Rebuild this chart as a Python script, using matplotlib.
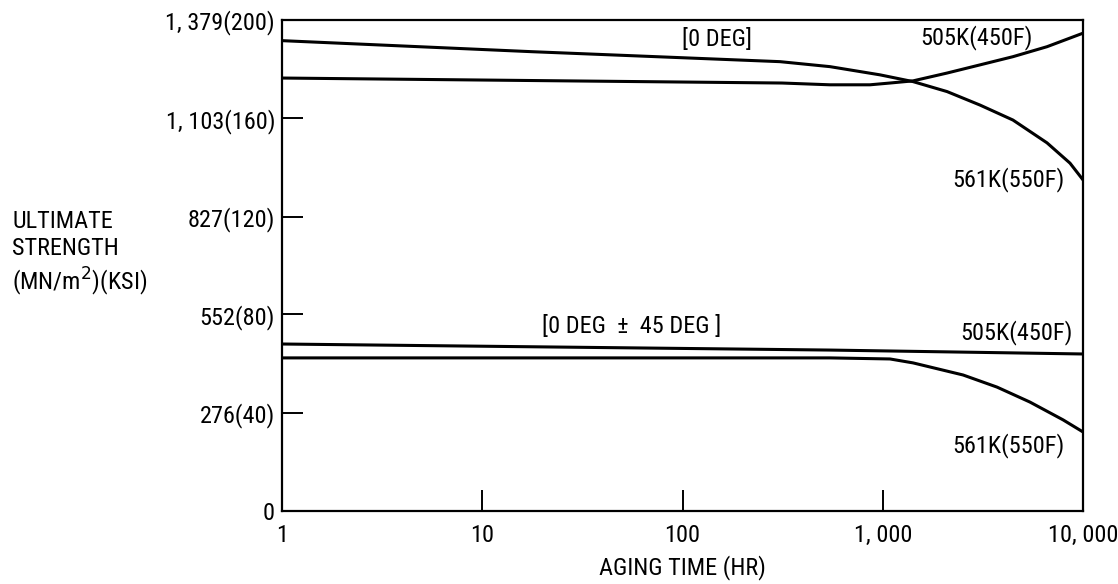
import matplotlib.pyplot as plt
from matplotlib import font_manager

# ultimate strength vs aging time, MN/m2
hours_0_505 = [1, 314, 545, 863, 1087, 1416, 2094, 3062, 4470, 6610, 10000]
str_0_505 = [1216, 1202, 1197, 1197, 1202, 1208, 1230, 1253, 1276, 1304, 1342]
hours_0_561 = [1, 17.7, 307, 545, 968, 1416, 2094, 3062, 4470, 6610, 8610, 10000]
str_0_561 = [1321, 1290, 1262, 1248, 1225, 1206, 1178, 1140, 1098, 1034, 977, 930]

hours_45_505 = [1, 545, 10000]
str_45_505 = [469, 452, 441]
hours_45_561 = [1, 545, 1087, 1416, 2518, 3720, 5430, 7950, 10000]
str_45_561 = [430, 430, 427, 416, 382, 348, 306, 256, 222]

yticks = [0, 276, 552, 827, 1103, 1379]
ytick_labels = ['0', '276(40)', '552(80)', '827(120)', '1, 103(160)', '1, 379(200)']
xticks = [1, 10, 100, 1000, 10000]
xtick_labels = ['1', '10', '100', '1, 000', '10, 000']

# look for a narrow face, the original lettering is condensed
fonts = font_manager.fontManager.ttflist
names = set(f.name for f in fonts)
stretch = 'normal'
fam = ['DejaVu Sans']
for n in ['Liberation Sans Narrow', 'Roboto Condensed', 'Open Sans Condensed', 'DejaVu Sans Condensed']:
    if n in names:
        fam = [n, 'DejaVu Sans']
        break
else:
    if any(f.name == 'DejaVu Sans' and f.stretch == 'condensed' for f in fonts):
        stretch = 'condensed'
plt.rcParams['font.family'] = fam
plt.rcParams['font.stretch'] = stretch
fs = 17.5 if (fam[0] != 'DejaVu Sans' or stretch == 'condensed') else 14

fig = plt.figure(figsize=(11.18, 5.84), dpi=100)
ax = fig.add_axes([282 / 1118, 73 / 584, 801 / 1118, 491 / 584])

lw = 2.2
ax.plot(hours_0_505, str_0_505, color='black', lw=lw)
ax.plot(hours_0_561, str_0_561, color='black', lw=lw)
ax.plot(hours_45_505, str_45_505, color='black', lw=lw)
ax.plot(hours_45_561, str_45_561, color='black', lw=lw)

ax.set_xscale('log')
ax.set_xlim(1, 10000)
ax.set_ylim(0, 1379)
ax.set_xticks(xticks)
ax.set_xticklabels(xtick_labels)
ax.minorticks_off()
ax.set_yticks(yticks)
ax.set_yticklabels(ytick_labels)
ax.tick_params(direction='in', length=15, width=1.4, labelsize=fs, pad=5)
ax.tick_params(axis='x', pad=9)
for s in ax.spines.values():
    s.set_linewidth(1.6)

ax.text(149, 1323, '[0 DEG]', ha='center', va='center', fontsize=fs)
ax.text(5623, 1331, '505K(450F)', ha='right', va='center', fontsize=fs)
ax.text(8130, 930, '561K(550F)', ha='right', va='center', fontsize=fs)
ax.text(56, 517, '[0 DEG  \u00b1  45 DEG ]', ha='center', va='center', fontsize=fs)
ax.text(8915, 500, '505K(450F)', ha='right', va='center', fontsize=fs)
ax.text(8130, 185, '561K(550F)', ha='right', va='center', fontsize=fs)

ax.set_xlabel('AGING TIME (HR)', fontsize=fs, labelpad=6)
fig.text(0.011, 0.565, 'ULTIMATE\nSTRENGTH\n(MN/m$^2$)(KSI)', ha='left', va='center',
         fontsize=fs, linespacing=1.22)

fig.savefig('out.png', dpi=100)
